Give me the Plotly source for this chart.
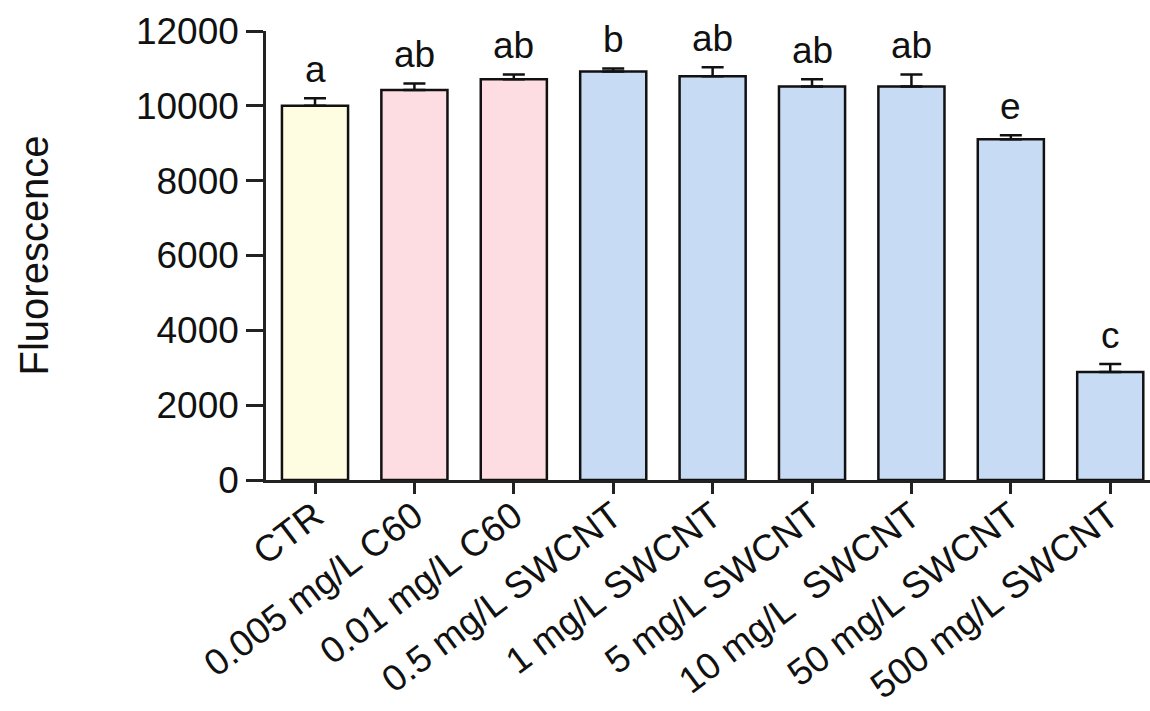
import plotly.graph_objects as go

categories = ["CTR", "0.005 mg/L C60", "0.01 mg/L C60", "0.5 mg/L SWCNT", "1 mg/L SWCNT",
              "5 mg/L SWCNT", "10 mg/L\u00a0 SWCNT", "50 mg/L SWCNT", "500 mg/L SWCNT"]
means = [10000, 10420, 10710, 10920, 10790, 10520, 10520, 9110, 2885]
errors = [200, 180, 130, 80, 240, 190, 320, 105, 215]
letters = ["a", "ab", "ab", "b", "ab", "ab", "ab", "e", "c"]
colors = ["#FFFDE1", "#FDDDE1", "#FDDDE1", "#C7DBF4", "#C7DBF4", "#C7DBF4", "#C7DBF4", "#C7DBF4", "#C7DBF4"]
y_ticks = [0, 2000, 4000, 6000, 8000, 10000, 12000]

x = list(range(len(categories)))
FONT = "Liberation Sans, Arial, sans-serif"

fig = go.Figure()
fig.add_trace(go.Bar(
    x=x, y=means, width=0.665,
    marker=dict(color=colors, line=dict(color="#111111", width=2.5)),
    error_y=dict(type="data", array=errors, visible=True, symmetric=False,
                 arrayminus=[0] * len(errors),
                 color="#111111", thickness=2.5, width=11),
    showlegend=False,
))

for xi, m, e, lab in zip(x, means, errors, letters):
    fig.add_annotation(x=xi, y=m + e, text=lab, showarrow=False,
                       yanchor="bottom", yshift=6,
                       font=dict(family=FONT, size=37, color="#111111"))

fig.add_annotation(xref="paper", yref="paper", x=(33 - 266) / 884, y=0.5,
                   text="Fluorescence", textangle=-90, showarrow=False,
                   xanchor="center", yanchor="middle",
                   font=dict(family=FONT, size=40, color="#111111"))

fig.update_layout(
    width=1150, height=711,
    margin=dict(l=266, r=0, t=31, b=231, pad=0, autoexpand=False),
    plot_bgcolor="white", paper_bgcolor="white",
    xaxis=dict(
        range=[-0.493, 8.40], automargin=False,
        tickmode="array", tickvals=x, ticktext=categories,
        tickangle=-37, ticklabelstandoff=-14,
        tickfont=dict(family=FONT, size=37, color="#111111"),
        showline=True, linecolor="#222222", linewidth=2.5,
        ticks="outside", ticklen=11, tickwidth=2.5, tickcolor="#222222",
        showgrid=False, zeroline=False,
    ),
    yaxis=dict(
        range=[0, 12000], automargin=False,
        tickmode="array", tickvals=y_ticks, ticktext=[str(v) for v in y_ticks],
        tickfont=dict(family=FONT, size=37, color="#111111"),
        showline=True, linecolor="#222222", linewidth=2.5,
        ticks="outside", ticklen=17, tickwidth=2.5, tickcolor="#222222",
        showgrid=False, zeroline=False,
    ),
)

fig.write_html("out.html")
